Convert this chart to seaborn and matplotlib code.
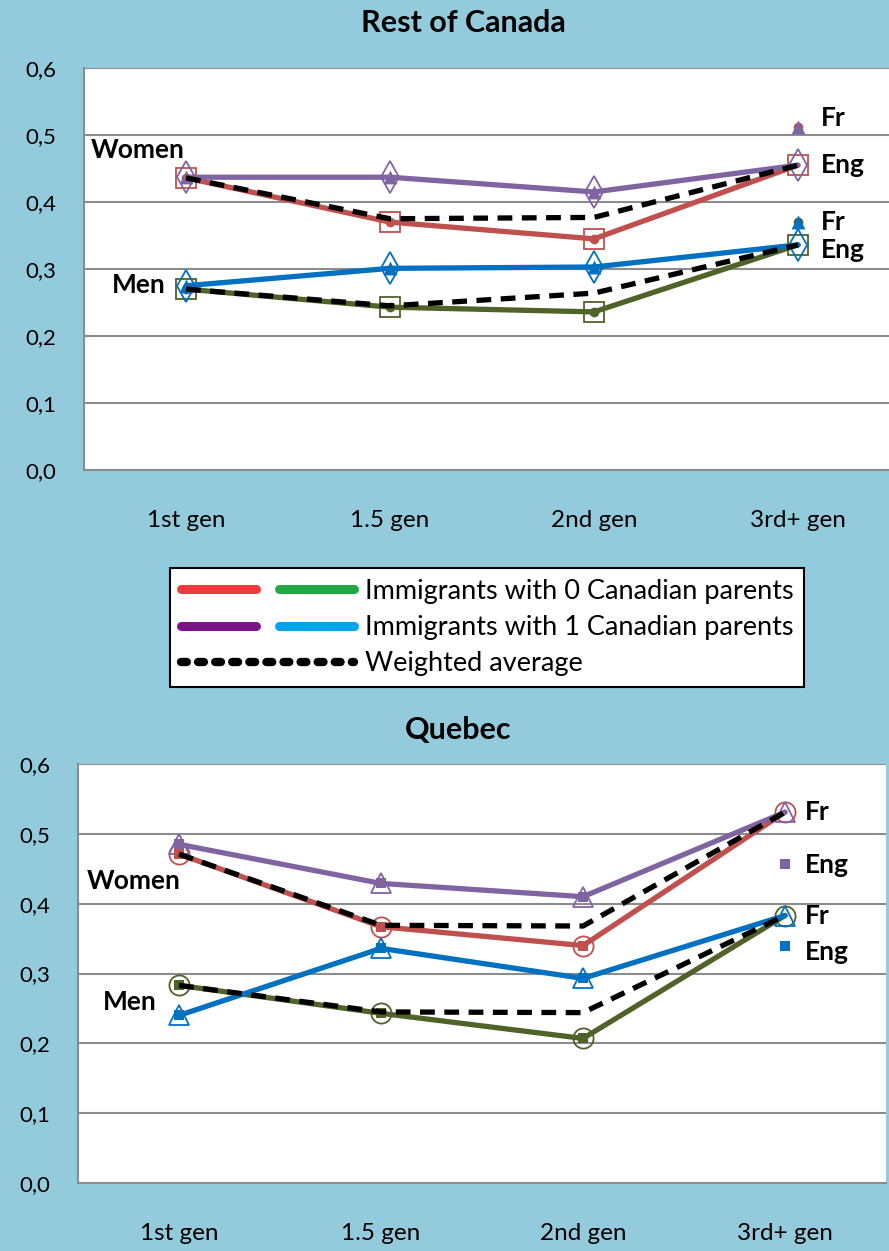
import matplotlib
matplotlib.use("Agg")
import matplotlib.pyplot as plt
import seaborn as sns
from matplotlib.lines import Line2D
from matplotlib.legend_handler import HandlerTuple

gens = ["1st gen", "1.5 gen", "2nd gen", "3rd+ gen"]

# Rest of Canada : lines end on the Eng point at 3rd+ gen
roc_women_0 = [0.436, 0.370, 0.345, 0.455]
roc_women_1 = [0.437, 0.437, 0.415, 0.455]
roc_women_avg = [0.436, 0.375, 0.377, 0.455]
roc_men_0 = [0.270, 0.243, 0.236, 0.336]
roc_men_1 = [0.275, 0.301, 0.303, 0.336]
roc_men_avg = [0.270, 0.245, 0.264, 0.336]
roc_women_fr = 0.512
roc_men_fr = 0.370

# Quebec : lines end on the Fr point at 3rd+ gen
qc_women_0 = [0.471, 0.367, 0.340, 0.531]
qc_women_1 = [0.485, 0.429, 0.410, 0.531]
qc_women_avg = [0.471, 0.369, 0.368, 0.531]
qc_men_0 = [0.283, 0.243, 0.207, 0.383]
qc_men_1 = [0.240, 0.336, 0.293, 0.383]
qc_men_avg = [0.283, 0.245, 0.244, 0.383]
qc_women_eng = 0.457
qc_men_eng = 0.340

yticks = [0.0, 0.1, 0.2, 0.3, 0.4, 0.5, 0.6]
legend_labels = ["Immigrants with 0 Canadian parents",
                 "Immigrants with 1 Canadian parents",
                 "Weighted average"]

RED = "#c0504d"
PURPLE = "#8064a2"
BLUE = "#0070c0"
GREEN = "#4f6228"
BG = "#93cbdd"
GRID = "#8c8c8c"

sns.set_style("white")
plt.rcParams["font.family"] = ["Lato", "DejaVu Sans"]
plt.rcParams["text.color"] = "black"

fig = plt.figure(figsize=(8.89, 12.51), dpi=100, facecolor=BG)
ax1 = fig.add_axes([84 / 889, 1 - 470 / 1251, 816 / 889, 402 / 1251])
ax2 = fig.add_axes([78 / 889, 1 - 1183 / 1251, 808 / 889, 419 / 1251])


def draw_series(ax, vals, extra, color, open_m, open_ms, fill_m, fill_ms):
    sns.lineplot(x=gens, y=vals, ax=ax, color=color, lw=3.8, sort=False,
                 marker=open_m, ms=open_ms, mfc="none", mec=color, mew=1.3)
    filled = list(vals[:3]) + [extra]
    sns.scatterplot(x=gens, y=filled, ax=ax, color=color, marker=fill_m,
                    s=fill_ms ** 2, linewidth=0, zorder=4)


def draw_avg(ax, vals):
    sns.lineplot(x=gens, y=vals, ax=ax, color="black", lw=3.8, sort=False,
                 linestyle=(0, (2.8, 1.8)), zorder=5)


def style_axis(ax):
    ax.set_facecolor("white")
    ax.set_xlim(-0.5, 3.5)
    ax.set_ylim(0, 0.6)
    ax.set_yticks(yticks)
    ax.set_yticklabels([f"{v:.1f}".replace(".", ",") for v in yticks],
                       fontsize=16)
    ax.set_xticks(range(4))
    ax.set_xticklabels(gens, fontsize=17.5)
    ax.set_xticks([-0.5, 0.5, 1.5, 2.5, 3.5], minor=True)
    ax.tick_params(axis="x", which="major", length=0, pad=29,
                   labelcolor="black")
    ax.tick_params(axis="x", which="minor", length=10, width=1.3,
                   color=GRID, direction="out")
    ax.tick_params(axis="y", length=8, width=1.3, color=GRID,
                   direction="out", pad=12, labelcolor="black")
    ax.grid(axis="y", color=GRID, lw=1.5)
    ax.set_axisbelow(True)
    for s in ["top", "right"]:
        ax.spines[s].set_visible(False)
    for s in ["left", "bottom"]:
        ax.spines[s].set_color(GRID)
        ax.spines[s].set_linewidth(1.5)
    ax.set_xlabel("")
    ax.set_ylabel("")


# Rest of Canada
draw_series(ax1, roc_women_0, roc_women_fr, RED, "s", 14.5, "o", 7)
draw_series(ax1, roc_women_1, roc_women_fr, PURPLE, "d", 16, "^", 10)
draw_series(ax1, roc_men_0, roc_men_fr, GREEN, "s", 14.5, "o", 7)
draw_series(ax1, roc_men_1, roc_men_fr, BLUE, "d", 16, "^", 10)
draw_avg(ax1, roc_women_avg)
draw_avg(ax1, roc_men_avg)
style_axis(ax1)

lab = dict(fontsize=19, fontweight="bold", va="center")
ax1.text(-0.005, 0.478, "Women", ha="right", **lab)
ax1.text(-0.10, 0.276, "Men", ha="right", **lab)
ax1.text(3.11, 0.525, "Fr", ha="left", **lab)
ax1.text(3.11, 0.455, "Eng", ha="left", **lab)
ax1.text(3.11, 0.370, "Fr", ha="left", **lab)
ax1.text(3.11, 0.328, "Eng", ha="left", **lab)

# Quebec
draw_series(ax2, qc_women_0, qc_women_eng, RED, "o", 14.5, "s", 6.5)
draw_series(ax2, qc_women_1, qc_women_eng, PURPLE, "^", 15, "s", 6.5)
draw_series(ax2, qc_men_0, qc_men_eng, GREEN, "o", 14.5, "s", 6.5)
draw_series(ax2, qc_men_1, qc_men_eng, BLUE, "^", 15, "s", 6.5)
draw_avg(ax2, qc_women_avg)
draw_avg(ax2, qc_men_avg)
style_axis(ax2)

ax2.text(0.01, 0.433, "Women", ha="right", **lab)
ax2.text(-0.11, 0.259, "Men", ha="right", **lab)
ax2.text(3.10, 0.531, "Fr", ha="left", **lab)
ax2.text(3.10, 0.455, "Eng", ha="left", **lab)
ax2.text(3.10, 0.382, "Fr", ha="left", **lab)
ax2.text(3.10, 0.331, "Eng", ha="left", **lab)

fig.text(0.521, 0.982, "Rest of Canada", ha="center", va="center",
         fontsize=22, fontweight="bold")
fig.text(0.515, 0.4165, "Quebec", ha="center", va="center",
         fontsize=22, fontweight="bold")

# legend
h_red = Line2D([], [], color="#f0393c", lw=6.5, solid_capstyle="round")
h_green = Line2D([], [], color="#21a845", lw=6.5, solid_capstyle="round")
h_purple = Line2D([], [], color="#7b1487", lw=6.5, solid_capstyle="round")
h_blue = Line2D([], [], color="#00a2e8", lw=6.5, solid_capstyle="round")
h_avg = Line2D([], [], color="black", lw=6, linestyle=(0, (0.7, 1.35)),
               dash_capstyle="round")
leg = fig.legend([(h_red, h_green), (h_purple, h_blue), h_avg], legend_labels,
                 handler_map={tuple: HandlerTuple(ndivide=None, pad=0.85)},
                 loc="center", bbox_to_anchor=(0.548, 0.4984),
                 frameon=True, fancybox=False, edgecolor="black",
                 framealpha=1, fontsize=19.5, handlelength=6.4,
                 handletextpad=0.4, labelspacing=0.42, borderpad=0.4,
                 borderaxespad=0)
leg.get_frame().set_linewidth(1.5)

fig.savefig("out.png", dpi=100, facecolor=BG)
